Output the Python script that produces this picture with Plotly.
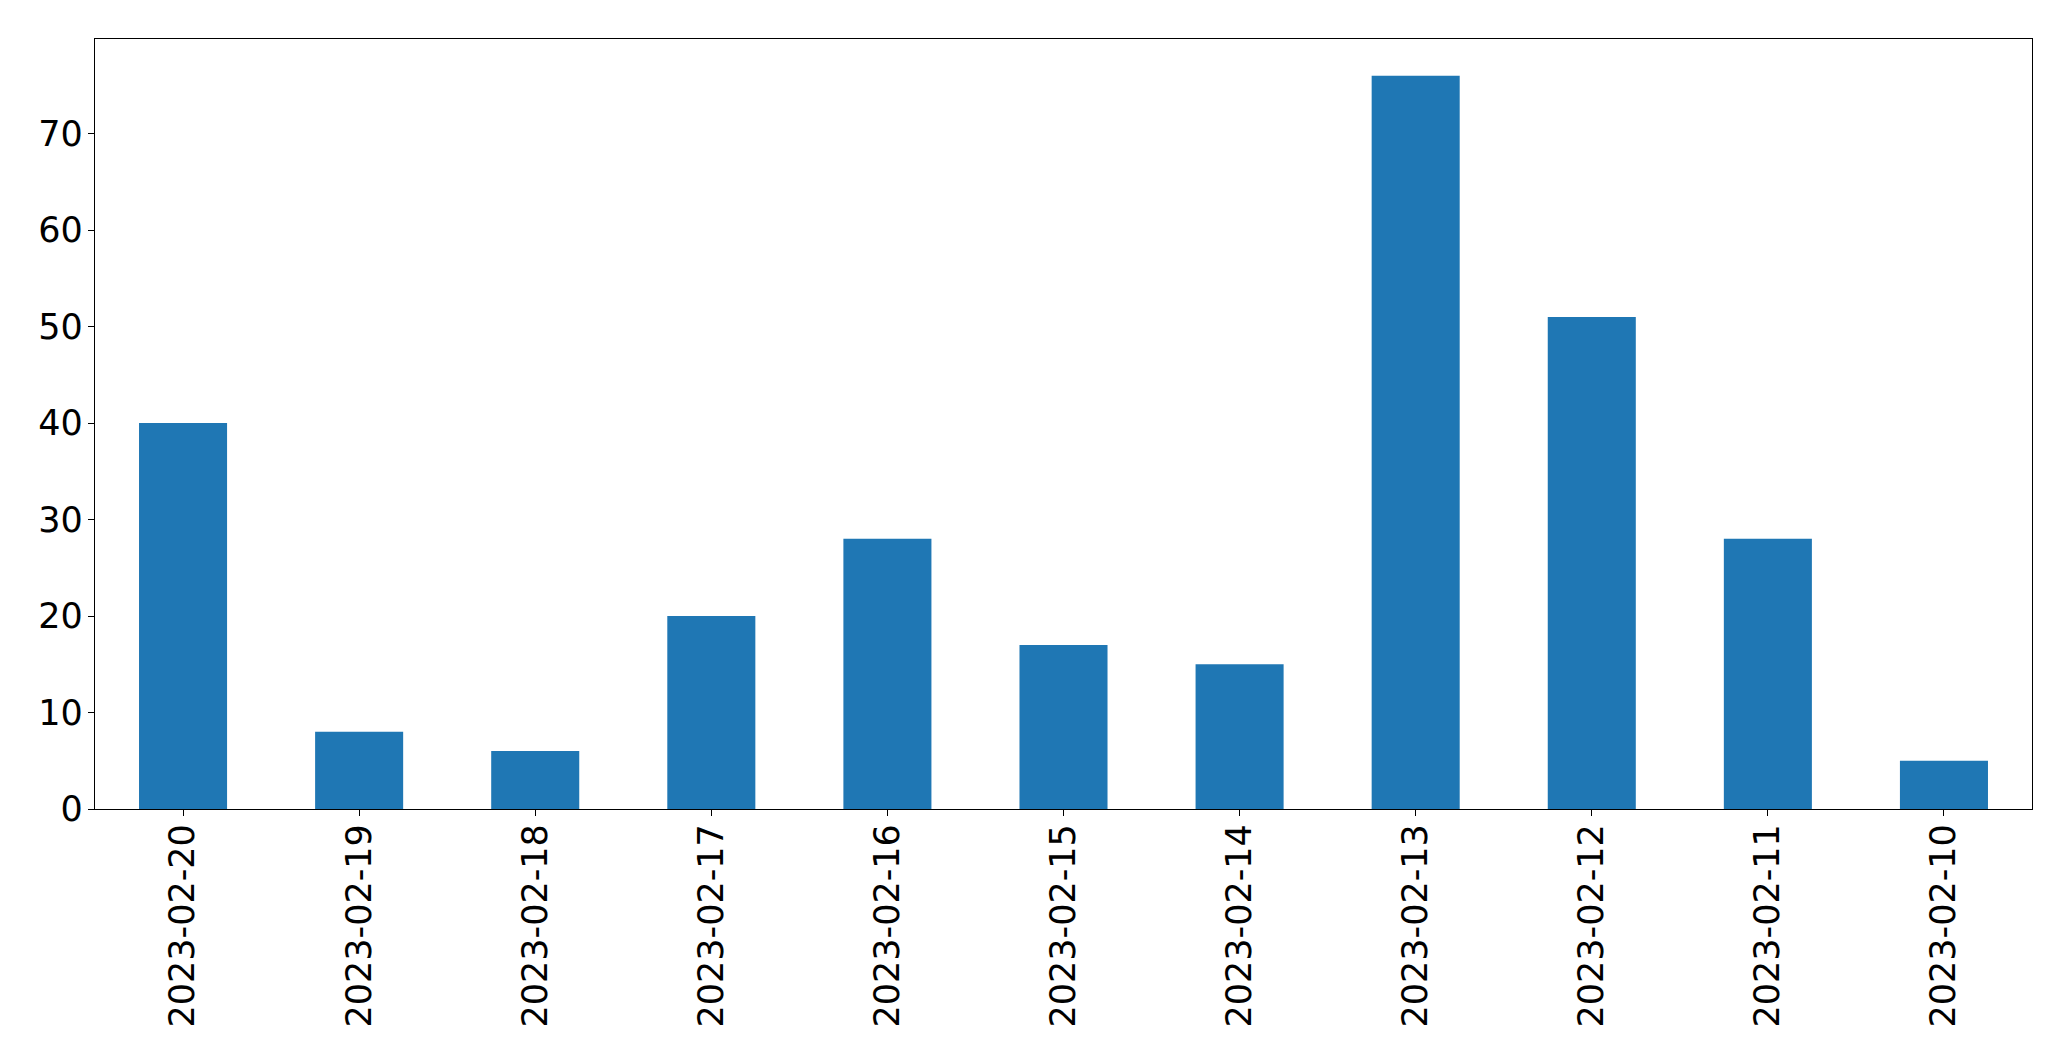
import plotly.graph_objects as go

dates = ["2023-02-20", "2023-02-19", "2023-02-18", "2023-02-17", "2023-02-16",
         "2023-02-15", "2023-02-14", "2023-02-13", "2023-02-12", "2023-02-11",
         "2023-02-10"]
counts = [40, 8, 6, 20, 28, 17, 15, 76, 51, 28, 5]
y_ticks = [0, 10, 20, 30, 40, 50, 60, 70]

fig = go.Figure(go.Bar(x=dates, y=counts, width=0.5, marker_color="#1f77b4",
                       marker_line_width=0))

axis_common = dict(showline=True, linecolor="black", linewidth=1.3, mirror=True,
                   ticks="outside", ticklen=6, tickwidth=1.3, tickcolor="black",
                   showgrid=False, zeroline=False,
                   tickfont=dict(family="DejaVu Sans", size=35, color="black"))

fig.update_layout(
    width=2071, height=1061,
    margin=dict(l=87, r=47, t=31, b=260),
    paper_bgcolor="white", plot_bgcolor="white",
    showlegend=False,
    xaxis=dict(type="category", range=[-0.5, 10.5], tickangle=-90,
               ticklabelstandoff=-6, **axis_common),
    yaxis=dict(range=[0, 79.8], tickvals=y_ticks, ticklabelstandoff=-2, **axis_common),
)

fig.write_html("out.html")
